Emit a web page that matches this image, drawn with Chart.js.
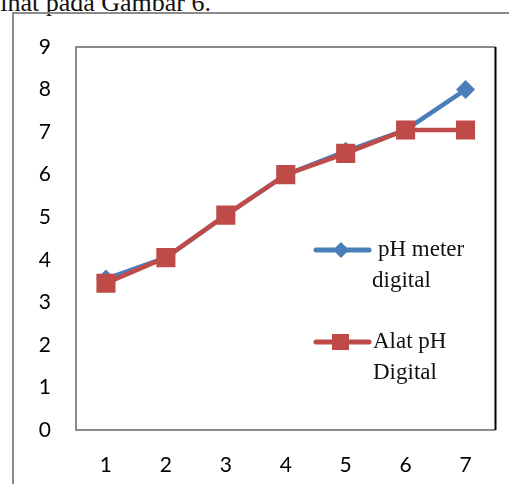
<!DOCTYPE html>
<html>
<head>
<meta charset="utf-8">
<script src="https://cdn.jsdelivr.net/npm/chart.js@4"></script>
<style>
  html, body { margin: 0; padding: 0; background: #fff; }
  body { width: 509px; height: 484px; position: relative; overflow: hidden; }
  #caption {
    position: absolute; left: -7px; top: -12px;
    font-family: "Liberation Serif", serif; font-size: 26px; color: #111;
    white-space: nowrap;
  }
  #frame {
    position: absolute; left: 12px; top: 12px; width: 520px; height: 500px;
    border: 2px solid #8a8a8a; box-sizing: border-box;
  }
  #wrap { position: absolute; left: 0; top: 0; width: 509px; height: 484px; }
</style>
</head>
<body>
<div id="caption">lihat pada Gambar 6.</div>
<div id="frame"></div>
<div id="wrap"><canvas id="chart"></canvas></div>
<script>
const categories = ["1", "2", "3", "4", "5", "6", "7"];
const phMeterDigital = [3.55, 4.05, 5.05, 6.0, 6.55, 7.05, 8.0];
const alatPhDigital = [3.45, 4.05, 5.05, 6.0, 6.5, 7.05, 7.05];
const legendLines = [["pH meter", "digital"], ["Alat pH", "Digital"]];

const BLUE = "#4A7EBB";
const RED = "#BE4B48";

// plot area frame: gray on three sides, black on the right
const plotFrame = {
  id: "plotFrame",
  beforeDatasetsDraw(chart) {
    const { ctx, chartArea: a } = chart;
    ctx.save();
    ctx.lineWidth = 2;
    ctx.strokeStyle = "#8a8a8a";
    ctx.beginPath();
    ctx.moveTo(a.right, a.top);
    ctx.lineTo(a.left, a.top);
    ctx.lineTo(a.left, a.bottom);
    ctx.lineTo(a.right, a.bottom);
    ctx.stroke();
    ctx.strokeStyle = "#000";
    ctx.beginPath();
    ctx.moveTo(a.right, a.top);
    ctx.lineTo(a.right, a.bottom);
    ctx.stroke();
    ctx.restore();
  },
};

// legend inside the plot with two-line labels
const sideLegend = {
  id: "sideLegend",
  afterDraw(chart) {
    const { ctx } = chart;
    const rows = [
      { y: 250, textX: 378, secondX: 372 },
      { y: 342, textX: 373, secondX: 373 },
    ];
    chart.data.datasets.forEach((ds, i) => {
      const r = rows[i];
      ctx.save();
      ctx.strokeStyle = ds.borderColor;
      ctx.lineWidth = 5;
      ctx.lineCap = "round";
      ctx.beginPath();
      ctx.moveTo(316, r.y);
      ctx.lineTo(369, r.y);
      ctx.stroke();
      ctx.fillStyle = ds.pointBackgroundColor;
      ctx.beginPath();
      if (ds.pointStyle === "rectRot") {
        ctx.moveTo(341, r.y - 8);
        ctx.lineTo(349, r.y);
        ctx.lineTo(341, r.y + 8);
        ctx.lineTo(333, r.y);
      } else {
        ctx.rect(332, r.y - 8, 17, 16);
      }
      ctx.fill();
      ctx.fillStyle = "#111";
      ctx.font = '23px "Liberation Serif"';
      ctx.textBaseline = "middle";
      ctx.textAlign = "left";
      ctx.fillText(legendLines[i][0], r.textX, r.y);
      ctx.fillText(legendLines[i][1], r.secondX, r.y + 31);
      ctx.restore();
    });
  },
};

new Chart(document.getElementById("chart"), {
  type: "line",
  data: {
    labels: categories,
    datasets: [
      {
        label: "pH meter digital",
        data: phMeterDigital,
        borderColor: BLUE,
        backgroundColor: BLUE,
        pointBackgroundColor: BLUE,
        pointBorderColor: BLUE,
        pointStyle: "rectRot",
        pointRadius: 9.5,
        pointBorderWidth: 0,
        borderWidth: 4.5,
        tension: 0,
        order: 1,
      },
      {
        label: "Alat pH Digital",
        data: alatPhDigital,
        borderColor: RED,
        backgroundColor: RED,
        pointBackgroundColor: RED,
        pointBorderColor: RED,
        pointStyle: "rect",
        pointRadius: 13.5,
        pointBorderWidth: 0,
        borderWidth: 4.5,
        tension: 0,
        order: 0,
      },
    ],
  },
  options: {
    responsive: true,
    maintainAspectRatio: false,
    animation: false,
    layout: { padding: { top: 47, right: 9, left: 0, bottom: 0 } },
    plugins: {
      legend: { display: false },
      tooltip: { enabled: false },
    },
    scales: {
      x: {
        offset: true,
        grid: { display: false, drawTicks: false },
        border: { display: false },
        ticks: {
          color: "#000",
          font: { family: "Lato", size: 21 },
          padding: 23,
        },
        afterFit(axis) { axis.height = 54; },
      },
      y: {
        min: 0,
        max: 9,
        grid: { display: false, drawTicks: false },
        border: { display: false },
        ticks: {
          stepSize: 1,
          color: "#000",
          font: { family: "Lato", size: 21 },
          padding: 25,
        },
        afterFit(axis) { axis.width = 76; },
      },
    },
  },
  plugins: [plotFrame, sideLegend],
});
</script>
</body>
</html>
